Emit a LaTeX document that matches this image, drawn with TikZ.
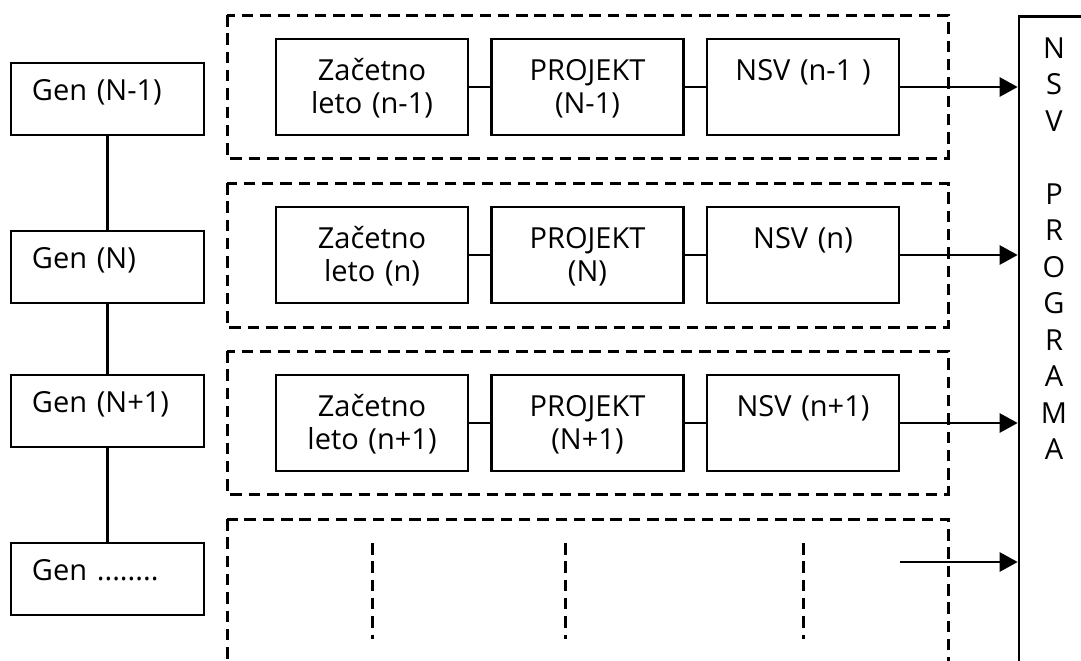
\documentclass[tikz,border=0pt]{standalone}
\usepackage{fontspec}
\setmainfont{Open Sans}
\usetikzlibrary{arrows.meta}
\tikzset{
  genbox/.style={draw, line width=1.3pt, inner ysep=0pt, inner xsep=10.5pt,
    text width=75.5pt, align=left, text height=18.5pt, text depth=17.5pt},
  stepbox/.style={draw, line width=1.3pt, inner sep=0pt, text width=96pt,
    align=center, minimum height=48pt, text height=10pt, text depth=17pt},
  groupbox/.style={line width=1.5pt, dash pattern=on 5.75pt off 3.4pt},
  progbox/.style={draw, line width=1.3pt, inner sep=0pt, text width=35pt,
    align=center, anchor=north, text height=21pt, text depth=340pt,
    font=\fontsize{14.5pt}{18.25pt}\selectfont},
  flow/.style={-{Triangle[length=9pt,width=9.5pt]}, line width=1.3pt}
}
\begin{document}
\begin{tikzpicture}[x=0.5pt, y=-0.5pt, font=\fontsize{14.5pt}{16.5pt}\selectfont]
  \useasboundingbox (0,0) rectangle (1081,660);
  % generations
  \node[genbox] (gen1) at (107.5,99) {Gen (N-1)};
  \node[genbox] (gen2) at (107.5,267) {Gen (N)};
  \node[genbox] (gen3) at (107.5,411) {Gen (N+1)};
  \node[genbox] (gen4) at (107.5,579) {Gen ........};
  \draw[line width=1.2pt] (gen1) -- (gen2) (gen2) -- (gen3) (gen3) -- (gen4);
  % dashed groups
  \draw[groupbox] (227,15) rectangle (948,158);
  \draw[groupbox] (227,183) rectangle (948,327);
  \draw[groupbox] (227,351) rectangle (948,494);
  \draw[groupbox] (227,519) rectangle (948,700);
  % programme
  \node[progbox] (prog) at (1054,15) {N\\S\\V\\[18.25pt]P\\R\\O\\G\\R\\A\\M\\A};
  % rows
  \node[stepbox] (zac1) at (372,87) {Začetno\\leto (n-1)};
  \node[stepbox] (proj1) at (587.5,87) {PROJEKT\\(N-1)};
  \node[stepbox] (nsv1) at (803,87) {NSV (n-1\ )\\~};
  \node[stepbox] (zac2) at (372,255) {Začetno\\leto (n)};
  \node[stepbox] (proj2) at (587.5,255) {PROJEKT\\(N)};
  \node[stepbox] (nsv2) at (803,255) {NSV (n)\\~};
  \node[stepbox] (zac3) at (372,423) {Začetno\\leto (n+1)};
  \node[stepbox] (proj3) at (587.5,423) {PROJEKT\\(N+1)};
  \node[stepbox] (nsv3) at (803,423) {NSV (n+1)\\~};
  \foreach \r in {1,2,3} {
    \draw[line width=1.3pt] (zac\r) -- (proj\r) (proj\r) -- (nsv\r);
    \draw[flow] (nsv\r) -- (nsv\r -| prog.west);
  }
  % unfinished row
  \foreach \x in {372,565,803}
    \draw[groupbox] (\x,543) -- (\x,639);
  \coordinate (more) at (900,562);
  \draw[flow] (more) -- (more -| prog.west);
\end{tikzpicture}
\end{document}
